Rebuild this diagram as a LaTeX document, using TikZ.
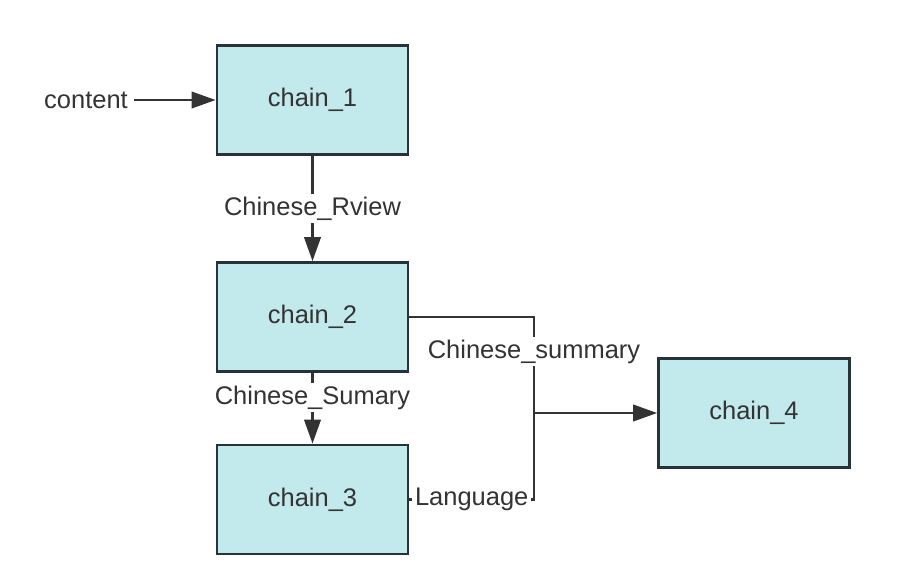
\documentclass[tikz,border=0pt]{standalone}
\usepackage{fontspec}
\setmainfont{Liberation Sans}
\usetikzlibrary{arrows.meta}
\definecolor{chainfill}{RGB}{194,233,236}
\definecolor{chainborder}{RGB}{40,50,58}
\definecolor{chainline}{RGB}{51,51,51}
\tikzset{%
  chainbox/.style = {shape=rectangle, draw=chainborder, fill=chainfill,%
                     line width=1.6pt, inner sep=0pt,%
                     minimum width=3.82cm, minimum height=2.18cm},%
  link/.style     = {draw=chainline, line width=1.35pt},%
  flow/.style     = {link, -{Triangle[length=0.48cm,width=0.33cm]}},%
  edgelabel/.style = {fill=white, inner sep=1.5pt}%
}

\begin{document}
\begin{tikzpicture}[x=0.02cm,y=-0.02cm,
		every node/.style = {font=\fontsize{14.5pt}{17pt}\selectfont, text=chainline}]
		\useasboundingbox (0,0) rectangle (898,576);
		% boxes
		\node [chainbox] (chain1) at (312.5,100) {chain\_1};
		\node [chainbox] (chain2) at (312.5,317) {chain\_2};
		\node [chainbox] (chain3) at (312.5,499.5) {chain\_3};
		\node [chainbox] (chain4) at (754,413) {chain\_4};
		\node (content) at (86,100) {content};
		\coordinate (join) at (534,413);
		% connectors
		\draw [flow] (content) -- (chain1);
		\draw [flow] (chain1) -- node [edgelabel] {Chinese\_Rview} (chain2);
		\draw [flow] (chain2) -- node [edgelabel, pos=0.35] {Chinese\_Sumary} (chain3);
		\draw [link] (chain2.east) -| node [edgelabel, pos=0.68] {Chinese\_summary} (join);
		\draw [link] (chain3.east) -| node [edgelabel, pos=0.25] {Language} (join);
		\draw [flow] (join) -- (chain4);
\end{tikzpicture}
\end{document}
